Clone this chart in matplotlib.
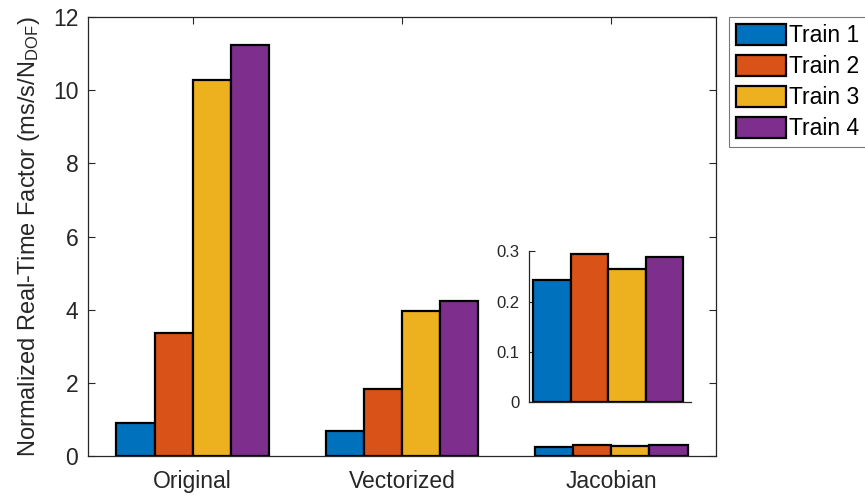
import matplotlib
matplotlib.use("Agg")
import matplotlib.pyplot as plt
import numpy as np
from matplotlib.patches import Patch

plt.rcParams['font.family'] = ['Liberation Sans', 'DejaVu Sans']
plt.rcParams['mathtext.fontset'] = 'custom'
plt.rcParams['mathtext.rm'] = 'Liberation Sans'
plt.rcParams['mathtext.it'] = 'Liberation Sans:italic'

categories = ["Original", "Vectorized", "Jacobian"]
series_names = ["Train 1", "Train 2", "Train 3", "Train 4"]
train1 = [0.90, 0.69, 0.243]
train2 = [3.35, 1.83, 0.294]
train3 = [10.28, 3.95, 0.265]
train4 = [11.24, 4.25, 0.288]
colors = ["#0072BD", "#D95319", "#EDB120", "#7E2F8E"]
yticks_main = [0, 2, 4, 6, 8, 10, 12]
yticks_inset = [0, 0.1, 0.2, 0.3]

series = [train1, train2, train3, train4]
dark = "#262626"

fig = plt.figure(figsize=(8.65, 4.99), dpi=100)
ax = fig.add_axes([88/865, 1-456/499, 628/865, (456-17)/499])

x = np.arange(1, len(categories)+1)
bw = 0.182
offsets = np.array([-1.5, -0.5, 0.5, 1.5]) * bw
for s, vals, c, off in zip(series_names, series, colors, offsets):
    ax.bar(x + off, vals, width=bw, color=c, edgecolor='black', linewidth=1.6, label=s, zorder=3)

ax.set_xlim(0.5, 3.5)
ax.set_ylim(0, 12)
ax.set_xticks(x)
ax.set_xticklabels(categories)
ax.set_yticks(yticks_main)
ax.set_yticklabels([str(v) for v in yticks_main])
ax.tick_params(direction='in', length=5, width=0.8, colors=dark, labelsize=16.5,
               top=True, right=True, labelcolor=dark)
ax.tick_params(axis='x', pad=10)
ax.tick_params(axis='y', pad=7)
for sp in ax.spines.values():
    sp.set_color(dark)
    sp.set_linewidth(0.9)
ax.set_ylabel(r'Normalized Real-Time Factor (ms/s/N$_{\mathrm{DOF}}$)', fontsize=17, color=dark, labelpad=8)

# inset
axi = fig.add_axes([529/865, 1-402.3/499, (690.7-529)/865, (402.3-251.3)/499])
xi = np.arange(1, 5)
jac = [s[2] for s in series]
axi.bar(xi, jac, width=1.0, color=colors, edgecolor='black', linewidth=1.6, zorder=3)
axi.set_xlim(0.385, 4.697)
axi.set_ylim(0, 0.3)
axi.set_yticks(yticks_inset)
axi.set_yticklabels(['0', '0.1', '0.2', '0.3'])
axi.set_xticks([])
axi.spines['top'].set_visible(False)
axi.spines['right'].set_visible(False)
for sp in ['left', 'bottom']:
    axi.spines[sp].set_color(dark)
    axi.spines[sp].set_linewidth(0.9)
axi.tick_params(direction='in', length=4, width=0.8, colors=dark, labelsize=12, labelcolor=dark, pad=7)
axi.patch.set_alpha(0)

handles = [Patch(facecolor=c, edgecolor='black', linewidth=1.6) for c in colors]
leg = fig.legend(handles, series_names, loc='upper left', bbox_to_anchor=(729/865, 1-17/499),
                 fontsize=16.5, frameon=True, fancybox=False, edgecolor='#555555',
                 handlelength=2.2, handleheight=1.05, labelspacing=0.33, handletextpad=0.12,
                 borderpad=0.3, borderaxespad=0)
leg.get_frame().set_linewidth(0.8)

fig.savefig("out.png", dpi=100)
